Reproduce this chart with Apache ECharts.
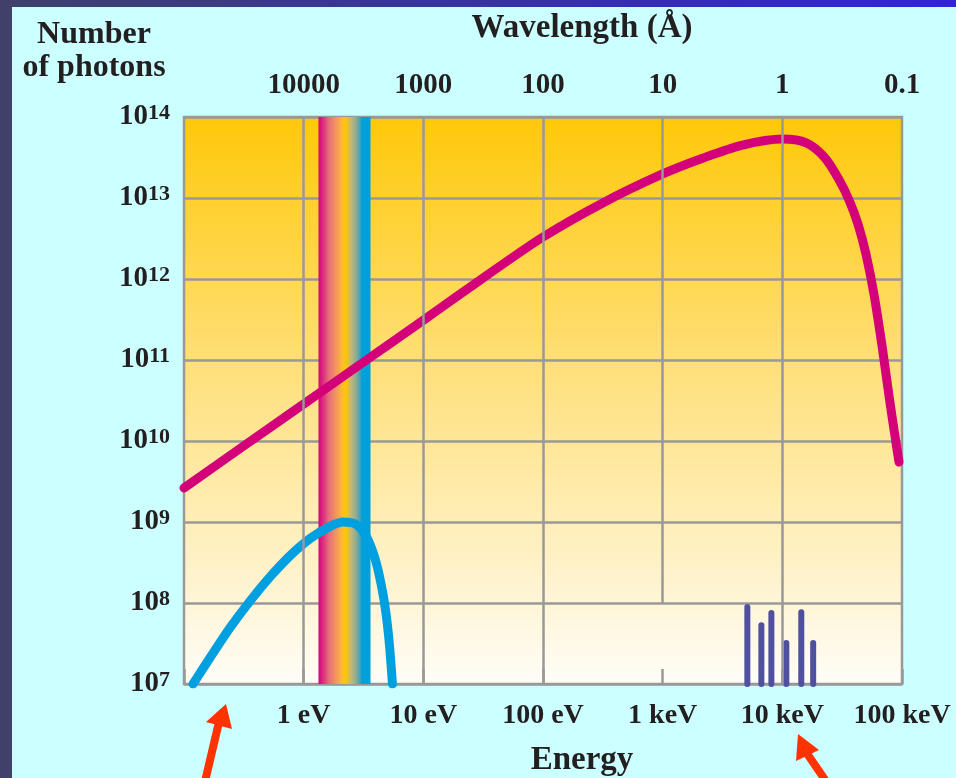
<!DOCTYPE html>
<html>
<head>
<meta charset="utf-8">
<script src="https://cdn.jsdelivr.net/npm/echarts@6/dist/echarts.min.js"></script>
<style>
  html, body { margin: 0; padding: 0; background: #ccffff; }
  #chart { width: 956px; height: 778px; }
</style>
</head>
<body>
<div id="chart"></div>
<script>
var myChart = echarts.init(document.getElementById('chart'));

// energy in eV, photon counts
const energyTicks = [1, 10, 100, 1000, 10000, 100000];
const energyLabels = ['1 eV', '10 eV', '100 eV', '1 keV', '10 keV', '100 keV'];
const wavelengthLabels = ['10000', '1000', '100', '10', '1', '0.1'];

// synchrotron spectrum
const synchrotron = [
  [0.1, 2.63e9], [0.316, 8.7e9], [1, 2.86e10], [3.16, 9.4e10], [10, 3.1e11],
  [31.6, 1.03e12], [100, 3.3e12], [316, 8.7e12], [1000, 1.98e13], [2154, 3.1e13],
  [4642, 4.5e13], [10000, 5.35e13], [15850, 4.8e13], [22390, 3.2e13],
  [29850, 1.67e13], [36150, 9.4e12], [43000, 4.7e12], [50100, 2.0e12],
  [58400, 6.4e11], [68100, 1.5e11], [77900, 3.6e10], [86000, 1.34e10], [94400, 5.5e9]
];

// lamp / blackbody spectrum
const lamp = [
  [0.119, 1e7], [0.168, 2.2e7], [0.246, 5.1e7], [0.362, 1.09e8], [0.531, 2.15e8],
  [0.779, 3.9e8], [1.14, 6.3e8], [1.68, 8.9e8], [2.15, 1.0e9], [2.71, 9.4e8],
  [3.29, 6.9e8], [3.98, 3.4e8], [4.64, 1.2e8], [5.11, 4.1e7], [5.52, 1e7]
];

// x-ray tube lines
const tubeLines = [
  [5100, 8.9e7], [6680, 5.3e7], [8100, 7.5e7], [10800, 3.2e7], [14400, 7.7e7], [18100, 3.2e7]
];

// visible band (eV)
const visibleBand = [1.33, 3.62];

// vertical grid lines: [energy, lowest count]
const vLines = [[1, 1e7], [10, 1e7], [100, 1e7], [1000, 1e8], [10000, 1e7]];

const yMin = 1e7, yMax = 1e14;
const font = 'Liberation Serif';
const ink = '#231f20';

function labelIndex(v) {
  return energyTicks.indexOf(Math.pow(10, Math.round(Math.log10(v))));
}

var option = {
  backgroundColor: '#ccffff',
  animation: false,
  grid: {
    left: 184, right: 54, top: 117, bottom: 94,
    show: true,
    borderColor: '#999',
    borderWidth: 2.5,
    backgroundColor: {
      type: 'linear', x: 0, y: 0, x2: 0, y2: 1,
      colorStops: [
        { offset: 0, color: '#ffc808' },
        { offset: 0.45, color: '#ffe07c' },
        { offset: 1, color: '#fffdf8' }
      ]
    }
  },
  xAxis: [
    {
      type: 'log', min: 0.1, max: 100000, logBase: 10,
      axisLine: { show: false },
      axisTick: { show: true, inside: true, length: 15, lineStyle: { color: '#999', width: 2.5 } },
      splitLine: { show: false },
      axisLabel: {
        margin: 18,
        fontFamily: font, fontWeight: 'bold', fontSize: 28, color: ink,
        formatter: function (v) {
          const i = labelIndex(v);
          return i < 0 ? '' : energyLabels[i];
        }
      }
    },
    {
      type: 'log', min: 0.1, max: 100000, logBase: 10, position: 'top',
      axisLine: { show: false },
      axisTick: { show: false },
      splitLine: { show: false },
      axisLabel: {
        margin: 17,
        fontFamily: font, fontWeight: 'bold', fontSize: 29, color: ink,
        formatter: function (v) {
          const i = labelIndex(v);
          return i < 0 ? '' : wavelengthLabels[i];
        }
      }
    }
  ],
  yAxis: {
    type: 'log', min: yMin, max: yMax, logBase: 10,
    axisLine: { show: false },
    axisTick: { show: false },
    splitLine: { show: true, lineStyle: { color: '#999', width: 2.5 } },
    axisLabel: {
      margin: 14,
      formatter: function (v) {
        return '{a|10}{b|' + Math.round(Math.log10(v)) + '}';
      },
      rich: {
        a: { fontFamily: font, fontWeight: 'bold', fontSize: 29, color: ink, lineHeight: 30 },
        b: { fontFamily: font, fontWeight: 'bold', fontSize: 22, color: ink, lineHeight: 30, verticalAlign: 'top', padding: [0, 0, 10, 0] }
      }
    }
  },
  graphic: [
    { type: 'rect', shape: { x: 0, y: 0, width: 12, height: 778 }, style: { fill: '#40406a' } },
    {
      type: 'rect', shape: { x: 0, y: 0, width: 956, height: 7 },
      style: {
        fill: {
          type: 'linear', x: 0, y: 0, x2: 1, y2: 0,
          colorStops: [{ offset: 0, color: '#40406a' }, { offset: 1, color: '#3322dd' }]
        }
      }
    },
    {
      type: 'text', x: 94, y: 18,
      style: {
        text: 'Number\nof photons', textAlign: 'center',
        font: 'bold 32px "Liberation Serif"', fill: ink, lineHeight: 33
      }
    },
    {
      type: 'text', x: 582, y: 12,
      style: { text: 'Wavelength (Å)', textAlign: 'center', font: 'bold 33px "Liberation Serif"', fill: ink }
    },
    {
      type: 'text', x: 582, y: 744,
      style: { text: 'Energy', textAlign: 'center', font: 'bold 33px "Liberation Serif"', fill: ink }
    },
    // arrows
    { type: 'line', shape: { x1: 203, y1: 790, x2: 219, y2: 722 }, style: { stroke: '#ff3300', lineWidth: 8 } },
    { type: 'polygon', shape: { points: [[226, 704], [206, 722], [232, 729]] }, style: { fill: '#ff3300' } },
    { type: 'line', shape: { x1: 832, y1: 790, x2: 806, y2: 752 }, style: { stroke: '#ff3300', lineWidth: 8 } },
    { type: 'polygon', shape: { points: [[798, 734], [796, 761], [819, 750]] }, style: { fill: '#ff3300' } }
  ],
  series: [
    {
      type: 'line', data: [], z: 1, silent: true,
      markLine: {
        silent: true, symbol: 'none', label: { show: false },
        lineStyle: { color: '#999', width: 2.5, type: 'solid' },
        data: vLines.map(function (d) { return [{ coord: [d[0], d[1]] }, { coord: [d[0], yMax] }]; })
      },
      markArea: {
        silent: true,
        itemStyle: {
          color: {
            type: 'linear', x: 0, y: 0, x2: 1, y2: 0,
            colorStops: [
              { offset: 0, color: '#d8007c' },
              { offset: 0.08, color: '#dc2a80' },
              { offset: 0.2, color: '#e66e78' },
              { offset: 0.33, color: '#f29460' },
              { offset: 0.45, color: '#fcb838' },
              { offset: 0.52, color: '#ffc800' },
              { offset: 0.62, color: '#c8b870' },
              { offset: 0.72, color: '#90ac94' },
              { offset: 0.8, color: '#40a2b4' },
              { offset: 0.84, color: '#00a0dc' },
              { offset: 1, color: '#00a0dc' }
            ]
          }
        },
        data: [[{ coord: [visibleBand[0], yMin] }, { coord: [visibleBand[1], yMax] }]]
      }
    },
    {
      type: 'line', data: synchrotron, z: 4, smooth: 0.3, symbol: 'none',
      lineStyle: { color: '#d4007a', width: 9, cap: 'round', join: 'round' }
    },
    {
      type: 'line', data: lamp, z: 4, smooth: 0.3, symbol: 'none',
      lineStyle: { color: '#00a0e0', width: 9, cap: 'round', join: 'round' }
    },
    {
      type: 'custom', z: 3, data: tubeLines,
      renderItem: function (params, api) {
        const p0 = api.coord([api.value(0), yMin]);
        const p1 = api.coord([api.value(0), api.value(1)]);
        return {
          type: 'line',
          shape: { x1: p0[0], y1: p0[1], x2: p1[0], y2: p1[1] },
          style: { stroke: '#5050a0', lineWidth: 6, lineCap: 'round' }
        };
      }
    }
  ]
};

myChart.setOption(option);
</script>
</body>
</html>
